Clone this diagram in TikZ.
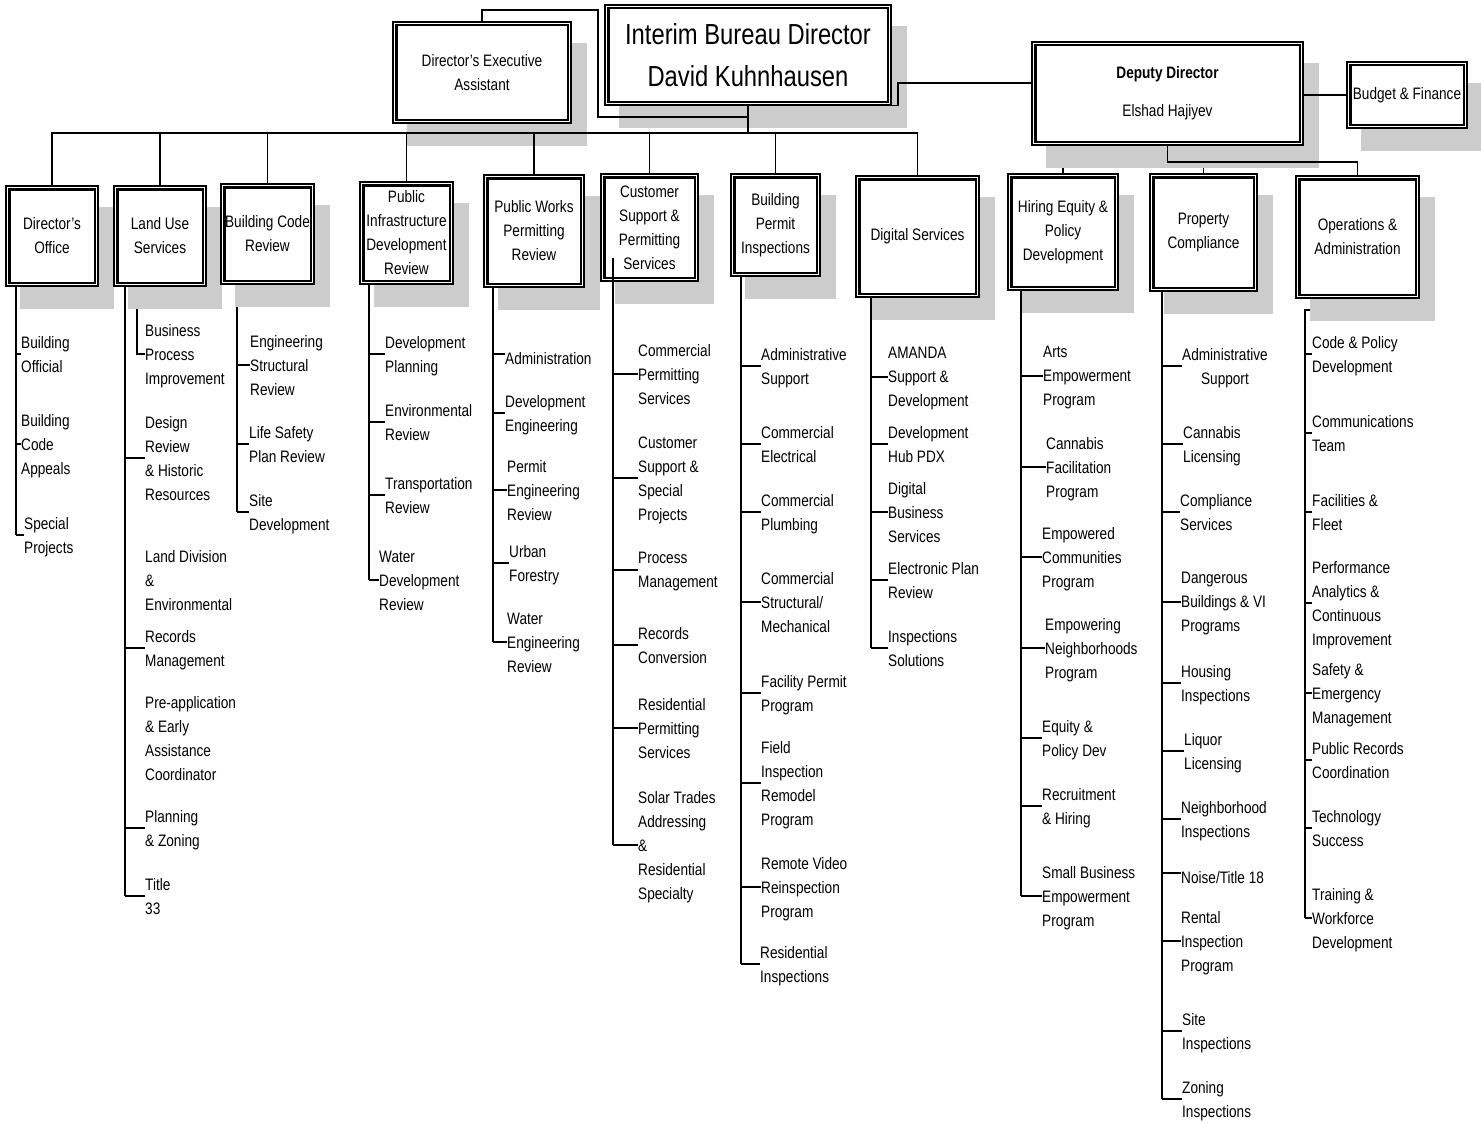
\documentclass[tikz,border=0pt]{standalone}
\usepackage{fontspec}
\setmainfont{Liberation Sans}[FakeStretch=0.82]
\usetikzlibrary{calc}
\definecolor{shadowgray}{RGB}{204,204,204}
\pgfdeclarelayer{paper}
\pgfdeclarelayer{hidden}
\pgfdeclarelayer{shade}
\pgfsetlayers{paper,hidden,shade,main}
\newcommand\unitfont{\fontsize{16.6}{24}\selectfont}
\newcommand\itemfont{\fontsize{16.6}{24}\selectfont}
% fixed line height so that the text block sits centred on its tick
\newcommand\linestrut{\rule[-3.2pt]{0pt}{24pt}}
\tikzset{
  unit/.style={draw, line width=1.2pt, fill=white, inner sep=0pt, align=center, font=\unitfont},
  item/.style={anchor=west, align=left, inner sep=0pt, font=\itemfont, yshift=-2pt,
    execute at begin node=\linestrut, execute at end node=\linestrut},
  link/.style={line width=1.4pt},
  inner frame/.style={line width=2.2pt},
}
% an entry hanging off a column line: column coordinate, name, position, text
\newcommand\orgitem[4]{\node[item] (#2) at (#3) {#4};
  \draw[link] ([yshift=2pt]#2.west -| #1) -- ([yshift=2pt]#2.west);}
% an entry without its own tick
\newcommand\orgnote[3]{\node[item] (#1) at (#2) {#3};}
\begin{document}
\begin{tikzpicture}[x=1pt,y=-1pt]
\useasboundingbox (0,0) rectangle (1481,1124);
\begin{pgfonlayer}{paper}
  \fill[white] (0,0) rectangle (1481,1124);
\end{pgfonlayer}

% ---- top level ----
\node[unit, minimum width=178pt, minimum height=101pt] (exec) at (482,72.5) {Director’s Executive\\Assistant};
\node[unit, minimum width=286pt, minimum height=100pt, font=\fontsize{29}{42}\selectfont] (interim) at (748,55) {Interim Bureau Director\\David Kuhnhausen};
\node[unit, minimum width=271pt, minimum height=103pt] (deputy) at (1167.5,93.5) {{\bfseries Deputy Director}\\[14pt]Elshad Hajiyev};
\node[unit, minimum width=120pt, minimum height=66pt] (budget) at (1407,95) {Budget \& Finance};

% ---- divisions ----
\node[unit, minimum width=92pt, minimum height=100pt] (dirof) at (52,236) {Director’s\\Office};
\node[unit, minimum width=92pt, minimum height=100pt] (landuse) at (160,236) {Land Use\\Services};
\node[unit, minimum width=93pt, minimum height=100pt] (bcr) at (267.5,234) {Building Code\\Review};
\node[unit, minimum width=93pt, minimum height=102pt] (pidr) at (406.5,233) {Public\\Infrastructure\\Development\\Review};
\node[unit, minimum width=100pt, minimum height=112pt] (pwpr) at (534,231) {Public Works\\Permitting\\Review};
\node[unit, minimum width=97pt, minimum height=107pt] (cspsc) at (649.5,227.5) {Customer\\Support \&\\Permitting\\Services};
\node[unit, minimum width=89pt, minimum height=102pt] (bpi) at (775.5,225) {Building\\Permit\\Inspections};
\node[unit, minimum width=123pt, minimum height=121pt] (digital) at (917.5,236.5) {Digital Services};
\node[unit, minimum width=110pt, minimum height=116pt] (hiring) at (1063,232) {Hiring Equity \&\\Policy\\Development};
\node[unit, minimum width=107pt, minimum height=117pt] (propc) at (1203.5,232.5) {Property\\Compliance};
\node[unit, minimum width=123pt, minimum height=122pt] (ops) at (1357.5,237) {Operations \&\\Administration};

% shadows and inner frames of every box
\foreach \n in {exec,interim,deputy,budget,dirof,landuse,bcr,pidr,pwpr,cspsc,bpi,digital,hiring,propc,ops}{
  \begin{pgfonlayer}{shade}
    \fill[shadowgray] ([shift={(15pt,-22pt)}]\n.south west) rectangle ([shift={(15pt,-22pt)}]\n.north east);
  \end{pgfonlayer}
  \draw[inner frame] ([shift={(4pt,4pt)}]\n.south west) rectangle ([shift={(-4pt,-4pt)}]\n.north east);
}

% ---- upper connectors ----
\coordinate (bus) at (0,133);
\coordinate (jogtop) at (598,10);
\coordinate (joglow) at (598,117);
\coordinate (dstep) at (898,83);
\coordinate (dbus) at (0,162);

\draw[link] (exec.north) |- (jogtop) -- (joglow) -- (joglow -| interim.south);
\draw[link] (interim.south) -- (interim.south |- bus);
\draw[link] (dirof.north) -- (dirof.north |- bus) -- (digital.north |- bus) -- (digital.north);
\foreach \n in {landuse,bcr,pidr,pwpr,cspsc,bpi}
  \draw[link] (\n.north) -- (\n.north |- bus);
\draw[link] (interim.south east) -- (interim.south east -| dstep) -- (dstep) -- (dstep -| deputy.west);
\draw[link] (deputy.east |- budget.west) -- (budget.west);
\draw[link] (deputy.south) -- (deputy.south |- dbus) -- (ops.north |- dbus) -- (ops.north);
\begin{pgfonlayer}{hidden}
  \draw[link] (hiring.north) -- (hiring.north |- dbus) -- (propc.north |- dbus) -- (propc.north);
\end{pgfonlayer}

% ---- column lines ----
\coordinate (c1) at (16,0);
\coordinate (c2) at (125,0);
\coordinate (c2b) at (137,0);
\coordinate (c3) at (237,0);
\coordinate (c4) at (369,0);
\coordinate (c5) at (493,0);
\coordinate (c6) at (613,258);
\coordinate (c7) at (741,0);
\coordinate (c8) at (871,0);
\coordinate (c9) at (1021,0);
\coordinate (c10) at (1162,0);
\coordinate (c11) at (1305,310);

% Director's Office
\orgitem{c1}{d1}{21,354}{Building\\Official}
\orgitem{c1}{d2}{21,444}{Building\\Code\\Appeals}
\orgitem{c1}{d3}{24,535}{Special\\Projects}
\draw[link] (dirof.south -| c1) -- ([yshift=2pt]d3.west -| c1);

% Land Use Services
\orgnote{l1}{145,354}{Business\\Process\\Improvement}
\begin{pgfonlayer}{hidden}
  \draw[link] (landuse.south -| c2b) |- ([yshift=2pt]l1.west);
\end{pgfonlayer}
\orgitem{c2}{l2}{145,458}{Design\\Review\\\& Historic\\Resources}
\orgnote{l3}{145,580}{Land Division\\\&\\Environmental}
\orgitem{c2}{l4}{145,648}{Records\\Management}
\orgnote{l5}{145,738}{Pre-application\\\& Early\\Assistance\\Coordinator}
\orgitem{c2}{l6}{145,828}{Planning\\\& Zoning}
\orgitem{c2}{l7}{145,896}{Title\\33}
\draw[link] (landuse.south -| c2) -- ([yshift=2pt]l7.west -| c2);

% Building Code Review
\orgitem{c3}{b1}{250,365}{Engineering\\Structural\\Review}
\orgitem{c3}{b2}{249,444}{Life Safety\\Plan Review}
\orgitem{c3}{b3}{249,512}{Site\\Development}
\begin{pgfonlayer}{hidden}
  \draw[link] (bcr.south -| c3) -- ([yshift=2pt]b3.west -| c3);
\end{pgfonlayer}

% Public Infrastructure Development Review
\orgitem{c4}{p1}{385,354}{Development\\Planning}
\orgitem{c4}{p2}{385,422}{Environmental\\Review}
\orgitem{c4}{p3}{385,495}{Transportation\\Review}
\orgitem{c4}{p4}{379,580}{Water\\Development\\Review}
\draw[link] (pidr.south -| c4) -- ([yshift=2pt]p4.west -| c4);

% Public Works Permitting Review
\orgitem{c5}{w1}{505,354}{Administration}
\orgitem{c5}{w2}{505,413}{Development\\Engineering}
\orgitem{c5}{w3}{507,490}{Permit\\Engineering\\Review}
\orgitem{c5}{w4}{509,563}{Urban\\Forestry}
\orgitem{c5}{w5}{507,642}{Water\\Engineering\\Review}
\draw[link] (pwpr.south -| c5) -- ([yshift=2pt]w5.west -| c5);

% Customer Support & Permitting Services
\orgitem{c6}{s1}{638,374}{Commercial\\Permitting\\Services}
\orgitem{c6}{s2}{638,478}{Customer\\Support \&\\Special\\Projects}
\orgitem{c6}{s3}{638,570}{Process\\Management}
\orgitem{c6}{s4}{638,645}{Records\\Conversion}
\orgitem{c6}{s5}{638,728}{Residential\\Permitting\\Services}
\orgitem{c6}{s6}{638,845}{Solar Trades\\Addressing\\\&\\Residential\\Specialty}
\draw[link] (c6) -- ([yshift=2pt]s6.west -| c6);

% Building Permit Inspections
\orgitem{c7}{i1}{761,366}{Administrative\\Support}
\orgitem{c7}{i2}{761,444}{Commercial\\Electrical}
\orgitem{c7}{i3}{761,512}{Commercial\\Plumbing}
\orgitem{c7}{i4}{761,602}{Commercial\\Structural/\\Mechanical}
\orgitem{c7}{i5}{761,693}{Facility Permit\\Program}
\orgitem{c7}{i6}{761,783}{Field\\Inspection\\Remodel\\Program}
\orgitem{c7}{i7}{761,887}{Remote Video\\Reinspection\\Program}
\orgitem{c7}{i8}{760,964}{Residential\\Inspections}
\draw[link] (bpi.south -| c7) -- ([yshift=2pt]i8.west -| c7);

% Digital Services
\orgitem{c8}{g1}{888,377}{AMANDA\\Support \&\\Development}
\orgitem{c8}{g2}{888,444}{Development\\Hub PDX}
\orgitem{c8}{g3}{888,512}{Digital\\Business\\Services}
\orgitem{c8}{g4}{888,580}{Electronic Plan\\Review}
\orgitem{c8}{g5}{888,648}{Inspections\\Solutions}
\draw[link] (digital.south -| c8) -- ([yshift=2pt]g5.west -| c8);

% Hiring Equity & Policy Development
\orgitem{c9}{h1}{1043,376}{Arts\\Empowerment\\Program}
\orgitem{c9}{h2}{1046,467}{Cannabis\\Facilitation\\Program}
\orgitem{c9}{h3}{1042,557}{Empowered\\Communities\\Program}
\orgitem{c9}{h4}{1045,648}{Empowering\\Neighborhoods\\Program}
\orgitem{c9}{h5}{1042,738}{Equity \&\\Policy Dev}
\orgitem{c9}{h6}{1042,806}{Recruitment\\\& Hiring}
\orgitem{c9}{h7}{1042,896}{Small Business\\Empowerment\\Program}
\draw[link] (hiring.south -| c9) -- ([yshift=2pt]h7.west -| c9);

% Property Compliance
\node[item, align=center] (r1) at (1182,366) {Administrative\\Support};
\draw[link] ([yshift=2pt]r1.west -| c10) -- ([yshift=2pt]r1.west);
\orgitem{c10}{r2}{1183,444}{Cannabis\\Licensing}
\orgitem{c10}{r3}{1180,512}{Compliance\\Services}
\orgitem{c10}{r4}{1181,602}{Dangerous\\Buildings \& VI\\Programs}
\orgitem{c10}{r5}{1181,683}{Housing\\Inspections}
\orgitem{c10}{r6}{1184,751}{Liquor\\Licensing}
\orgitem{c10}{r7}{1181,819}{Neighborhood\\Inspections}
\orgitem{c10}{r8}{1181,873}{Noise/Title 18}
\orgitem{c10}{r9}{1181,941}{Rental\\Inspection\\Program}
\orgitem{c10}{r10}{1182,1031}{Site\\Inspections}
\orgitem{c10}{r11}{1182,1099}{Zoning\\Inspections}
\draw[link] (propc.south -| c10) -- ([yshift=2pt]r11.west -| c10);

% Operations & Administration
\orgitem{c11}{o1}{1312,354}{Code \& Policy\\Development}
\orgitem{c11}{o2}{1312,433}{Communications\\Team}
\orgitem{c11}{o3}{1312,512}{Facilities \&\\Fleet}
\orgitem{c11}{o4}{1312,603}{Performance\\Analytics \&\\Continuous\\Improvement}
\orgitem{c11}{o5}{1312,693}{Safety \&\\Emergency\\Management}
\orgitem{c11}{o6}{1312,760}{Public Records\\Coordination}
\orgitem{c11}{o7}{1312,828}{Technology\\Success}
\orgitem{c11}{o8}{1312,918}{Training \&\\Workforce\\Development}
\begin{pgfonlayer}{hidden}
  \draw[link] (ops.south) |- (c11) -- ([yshift=2pt]o8.west -| c11);
\end{pgfonlayer}
\end{tikzpicture}
\end{document}
